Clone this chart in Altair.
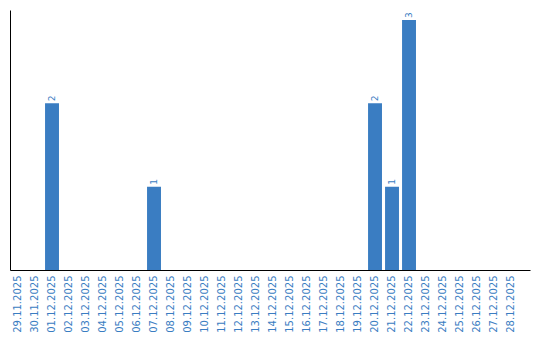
import altair as alt
import pandas as pd

dates = ["29.11.2025", "30.11.2025", "01.12.2025", "02.12.2025", "03.12.2025",
         "04.12.2025", "05.12.2025", "06.12.2025", "07.12.2025", "08.12.2025",
         "09.12.2025", "10.12.2025", "11.12.2025", "12.12.2025", "13.12.2025",
         "14.12.2025", "15.12.2025", "16.12.2025", "17.12.2025", "18.12.2025",
         "19.12.2025", "20.12.2025", "21.12.2025", "22.12.2025", "23.12.2025",
         "24.12.2025", "25.12.2025", "26.12.2025", "27.12.2025", "28.12.2025"]
counts = [0, 0, 2, 0, 0, 0, 0, 0, 1, 0,
          0, 0, 0, 0, 0, 0, 0, 0, 0, 0,
          0, 2, 1, 3, 0, 0, 0, 0, 0, 0]

df = pd.DataFrame({"date": dates, "count": counts})
df["label"] = df["count"].apply(lambda v: str(v) if v > 0 else "")

BLUE = "#3a7dc2"

xscale = alt.Scale(paddingInner=0.18, paddingOuter=0.384, align=0.08)
x = alt.X("date:N", sort=dates, title=None, scale=xscale,
          axis=alt.Axis(labelAngle=-90, labelColor=BLUE, labelFont="DejaVu Sans",
                        labelFontSize=10, ticks=False, domainColor="black",
                        domainWidth=1, labelPadding=5, labelAlign="right",
                        labelBaseline="middle"))
y = alt.Y("count:Q", title=None, scale=alt.Scale(domain=[0, 3.12], nice=False),
          axis=alt.Axis(labels=False, ticks=False, grid=False, domainColor="black",
                        domainWidth=1))

bars = alt.Chart(df).mark_bar(color=BLUE).encode(x=x, y=y)
text = alt.Chart(df).mark_text(angle=270, align="left", baseline="middle", dx=2,
                               color=BLUE, font="DejaVu Sans", fontSize=9).encode(
    x=alt.X("date:N", sort=dates, scale=xscale), y="count:Q", text="label:N")

chart = (bars + text).properties(
    width=520, height=260, background="white",
    padding={"left": 10, "top": 10, "right": 5, "bottom": 0},
).configure_view(strokeWidth=0, stroke="transparent")

chart.save("out.html", embed_options={"renderer": "svg", "actions": False})
